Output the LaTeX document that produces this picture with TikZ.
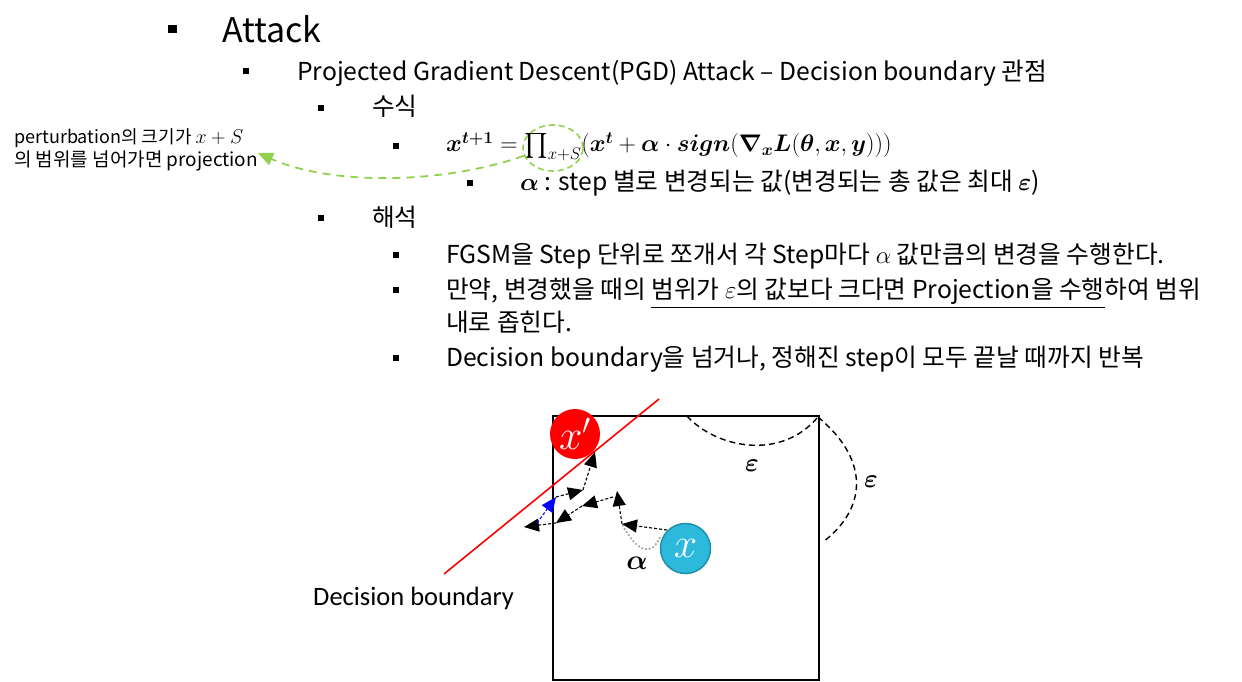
\documentclass[tikz,border=0pt]{standalone}
\usepackage{fix-cm}
\usepackage{amsmath,bm}
\usepackage[no-math]{fontspec}
\setmainfont{Noto Sans CJK KR}
\newfontfamily\calfont{Carlito}
\usetikzlibrary{arrows.meta,shapes.geometric}
\definecolor{pgreen}{HTML}{92D050}
\definecolor{xblue}{HTML}{2DB9DC}
\definecolor{xbord}{HTML}{1F8FAA}
\begin{document}
\begin{tikzpicture}[x=1pt,y=-1pt,
  txt/.style={anchor=base west,inner sep=0pt,font=\fontsize{24.7}{28}\selectfont},
  bul/.style={fill=black},
  tipT/.tip={Triangle[length=15pt,width=13pt]},
  stepar/.style={densely dashed,line width=1.1pt,-tipT},
  bluear/.style={densely dashed,line width=1.1pt,blue,-tipT},
  eps/.style={dashed,line width=1.4pt,dash pattern=on 6pt off 4pt}
]
\useasboundingbox (0,0) rectangle (1242,682);
% bullets
\fill[bul] (168,25) rectangle (177,33);
\fill[bul] (243,68) rectangle (249,74);
\fill[bul] (318,105) rectangle (324,111);
\fill[bul] (393,143) rectangle (399,149);
\fill[bul] (467,180) rectangle (473,186);
\fill[bul] (318,215) rectangle (324,221);
\fill[bul] (393,252) rectangle (399,258);
\fill[bul] (393,287) rectangle (399,293);
\fill[bul] (393,355) rectangle (399,361);
% texts
\node[txt,font=\fontsize{34}{40}\selectfont] (t1) at (222,43) {Attack};
\node[txt] (t2) at (297,81) {Projected Gradient Descent(PGD) Attack -- Decision boundary 관점};
\node[txt] (t3) at (372,116) {수식};
\node[txt,font=\fontsize{24}{28}\selectfont] (t4) at (446,152) {$\bm{x^{t+1}} = \textstyle\prod_{x+S}(\bm{x^{t}} + \bm{\alpha}\cdot\bm{sign}(\bm{\nabla_{x}}\bm{L}(\bm{\theta},\bm{x},\bm{y})))$};
\node[txt] (t5) at (520,190) {$\bm{\alpha}$ : step 별로 변경되는 값(변경되는 총 값은 최대 $\bm{\varepsilon}$)};
\node[txt] (t6) at (372,226) {해석};
\node[txt] (t7) at (446,263) {FGSM을 Step 단위로 쪼개서 각 Step마다 $\alpha$ 값만큼의 변경을 수행한다.};
\node[txt] (t8) at (446,298) {만약, 변경했을 때의 \underline{범위가 $\varepsilon$의 값보다 크다면 Projection을 수행}하여 범위};
\node[txt] (t9) at (446,331) {내로 좁힌다.};
\node[txt] (t10) at (446,366) {Decision boundary을 넘거나, 정해진 step이 모두 끝날 때까지 반복};
% annotation
\node[txt,font=\fontsize{18}{21}\selectfont] (n1) at (14,144) {perturbation의 크기가 {\fontsize{20}{22}\selectfont$x+S$}};
\node[txt,font=\fontsize{19}{22}\selectfont] (n2) at (14,166) {의 범위를 넘어가면 projection};
\node[ellipse,draw=pgreen,dashed,line width=1.6pt,dash pattern=on 6pt off 4pt,minimum width=60pt,minimum height=46pt,inner sep=0pt] (pe) at (553,148) {};
\coordinate (tipA) at (258,153);
\draw[pgreen,line width=1.8pt,dash pattern=on 8pt off 6pt,-{Triangle[length=15pt,width=13pt]}]
  (pe.195) .. controls (440,185) and (330,185) .. (tipA);
% diagram
\draw[line width=1.6pt] (553,416) rectangle (819,680);
\coordinate (r1) at (444,574);
\coordinate (r2) at (659,399);
\node[circle,fill=red,minimum size=50pt,inner sep=0pt,text=white,font=\fontsize{42}{46}\selectfont] (xp) at (575,434) {$x'$};
\draw[red,line width=1.6pt] (r1) -- (r2);
\node[circle,fill=xblue,draw=xbord,line width=1.5pt,minimum size=50pt,inner sep=0pt,text=white,font=\fontsize{42}{46}\selectfont] (xo) at (685.5,548.5) {$x$};
% epsilon curves
\coordinate (e1) at (687,416);
\coordinate (e2) at (818,417);
\coordinate (e3) at (823,542);
\draw[eps] (e1) .. controls (715,447) and (780,462) .. (e2);
\draw[eps] (e2) .. controls (872,462) and (865,510) .. (e3);
\node[font=\fontsize{26}{30}\selectfont,inner sep=0pt] (el1) at (752,466) {$\bm{\varepsilon}$};
\node[font=\fontsize{26}{30}\selectfont,inner sep=0pt] (el2) at (871,482) {$\bm{\varepsilon}$};
\node[font=\fontsize{28}{32}\selectfont,inner sep=0pt] (al) at (637,563) {$\bm{\alpha}$};
% steps
\coordinate (a) at (667,530);
\coordinate (b) at (622,524);
\coordinate (c) at (617,491);
\coordinate (c2) at (613,497);
\coordinate (d) at (582,506);
\coordinate (e) at (556,523);
\coordinate (f) at (524,527);
\coordinate (g) at (537,523);
\coordinate (h) at (556,497);
\coordinate (i) at (583,490);
\coordinate (j) at (595,452);
\draw[gray!70,dotted,line width=1.8pt] (660,537) .. controls (652,556) and (638,554) .. (b);
\draw[stepar] (a) -- (b);
\draw[stepar] (b) -- (c);
\draw[stepar] (c2) -- (d);
\draw[stepar] (d) -- (e);
\draw[stepar] (e) -- (f);
\draw[bluear] (g) -- (h);
\draw[stepar] (h) -- (i);
\draw[stepar] (i) -- (j);
\node[anchor=base west,inner sep=0pt,font=\calfont\fontsize{26.5}{30}\selectfont] (db) at (313,605) {Decision boundary};
\end{tikzpicture}
\end{document}
